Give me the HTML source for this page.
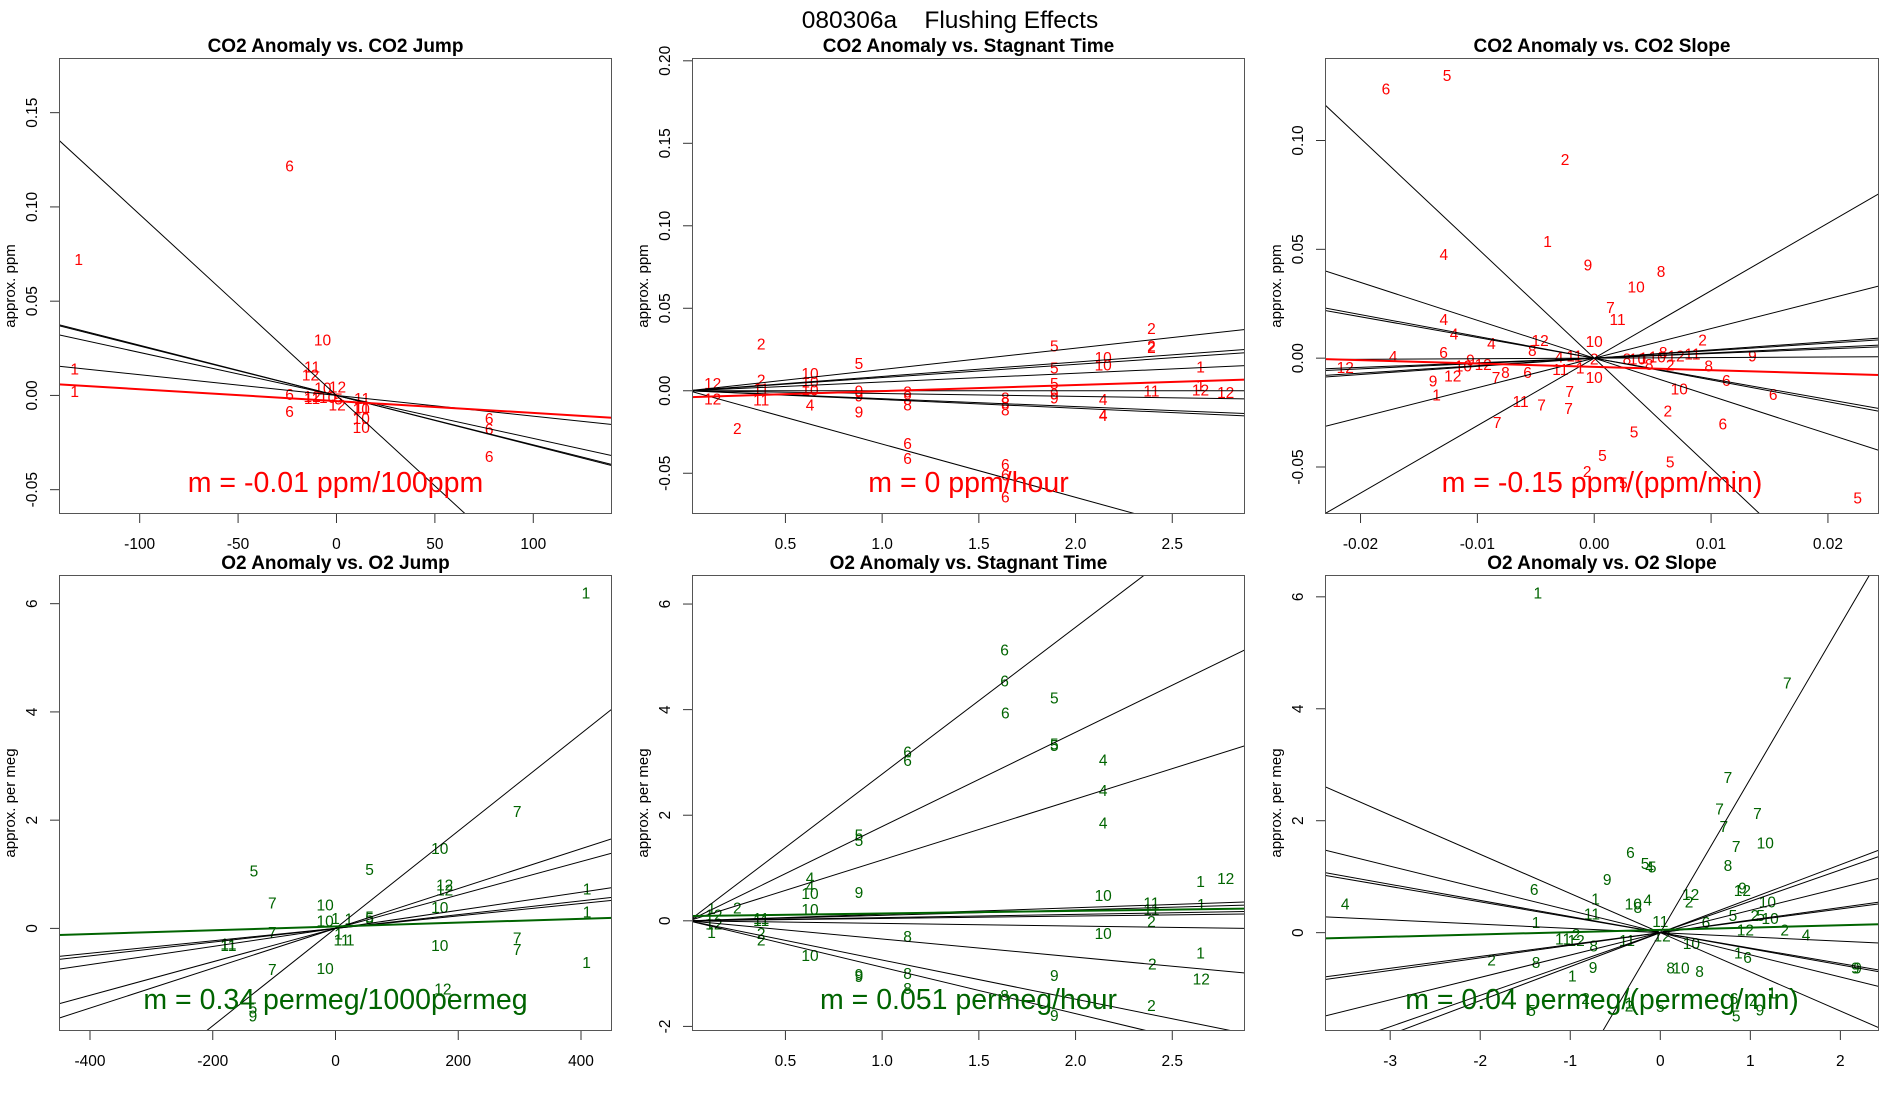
<!DOCTYPE html>
<html><head><meta charset="utf-8">
<style>
html,body{margin:0;padding:0;background:#fff;overflow:hidden;width:1900px;height:1100px;}
svg{display:block;font-family:"Liberation Sans",Arial,sans-serif;}
</style></head>
<body>
<svg id="chart" width="1900" height="1100" viewBox="0 0 1900 1100" xmlns="http://www.w3.org/2000/svg">
<rect width="1900" height="1100" fill="#fff"/>
<text x="950" y="28" font-size="24.5" text-anchor="middle" style="white-space:pre">080306a    Flushing Effects</text>
</svg>
<script>
// ---------- Panel 1: CO2 Anomaly vs CO2 Jump ----------
const p1Lab = ["6","1","10","11","12","1","1","10","12","6","12","11","10","5","12","11","11","10","10","10","6","6","6","6"];
const p1X = [-23.8,-131,-7.1,-12.4,-13.2,-133,-133,-6.9,0.5,-23.8,-12.4,-12.4,-4.5,1,0.3,13,13,12.6,12.6,12.6,-23.8,77.6,77.6,77.6];
const p1Y = [0.1217,0.0722,0.0294,0.0151,0.0108,0.0141,0.002,0.0039,0.0045,0.0006,-0.0007,-0.0015,-0.0012,-0.0018,-0.005,-0.0017,-0.0063,-0.0073,-0.0123,-0.0171,-0.0086,-0.0123,-0.0179,-0.0324];
const p1Slopes = [-0.00096,-0.000266,-0.000262,-0.000228,-0.00011];
const p1Fit = [-0.003,-0.000063];
const p1XTicks = [-100,-50,0,50,100];
const p1YTicks = [-0.05,0,0.05,0.10,0.15];
const p1YTickLabels = ["-0.05","0.00","0.05","0.10","0.15"];

// ---------- Panel 2: CO2 Anomaly vs Stagnant Time ----------
const p2Lab = ["2","12","12","2","2","11","11","10","10","10","4","5","9","9","9","8","8","8","6","6","8","8","8","6","6","6","5","5","5","9","9","10","10","4","4","4","2","2","2","11","1","1","12","12"];
const p2X = [0.375,0.124,0.124,0.251,0.375,0.375,0.375,0.627,0.627,0.627,0.627,0.88,0.88,0.88,0.88,1.131,1.131,1.131,1.131,1.131,1.637,1.637,1.637,1.637,1.637,1.637,1.89,1.89,1.89,1.89,1.89,2.143,2.143,2.143,2.143,2.143,2.392,2.392,2.392,2.392,2.646,2.646,2.646,2.776];
const p2Y = [0.0283,0.0043,-0.0049,-0.0228,0.0064,0.001,-0.0057,0.0106,0.0053,0.0006,-0.0085,0.0166,0,-0.0032,-0.0128,-0.0006,-0.0053,-0.0085,-0.0319,-0.0411,-0.0043,-0.0074,-0.0117,-0.0447,-0.051,-0.0645,0.0272,0.0138,0.0043,-0.002,-0.0043,0.0202,0.0155,-0.0053,-0.0147,-0.0151,0.0377,0.027,0.0262,0,0.0145,0.0032,0.0004,-0.001];
const p2Slopes = [0.0129,0.0087,0.008,0.0053,0,-0.0017,-0.0048,-0.0053,-0.0323];
const p2Fit = [-0.0039,0.0037];
const p2XTicks = [0.5,1.0,1.5,2.0,2.5];
const p2XTickLabels = ["0.5","1.0","1.5","2.0","2.5"];
const p2YTicks = [-0.05,0,0.05,0.10,0.15,0.20];
const p2YTickLabels = ["-0.05","0.00","0.05","0.10","0.15","0.20"];

// ---------- Panel 3: CO2 Anomaly vs CO2 Slope ----------
const p3Lab = ["6","5","2","1","4","9","8","10","7","11","4","4","4","12","10","2","4","6","8","4","11","2","12","9","10","12","7","8","6","11","1","10","9","12","1","11","7","7","7","7","8","10","1","10","8","12","11","8","2","9","8","6","10","6","2","6","5","5","5","2","5","5"];
const p3X = [-0.01783,-0.0126,-0.0025,-0.004,-0.01287,-0.00054,0.00571,0.00358,0.00138,0.002,-0.01287,-0.012,-0.0088,-0.00463,0,0.00927,-0.0172,-0.0129,-0.0053,-0.003,-0.0017,0,-0.0213,-0.0106,-0.0112,-0.0095,-0.0084,-0.0076,-0.0057,-0.0029,-0.0012,0,-0.0138,-0.0121,-0.0135,-0.0063,-0.0045,-0.0021,-0.0022,-0.0083,0.0028,0.0037,0.0042,0.0054,0.0059,0.007,0.0084,0.0047,0.0065,0.01354,0.0098,0.0113,0.00728,0.01532,0.0063,0.011,0.0034,0.0007,0.0065,-0.0006,0.0025,0.02255];
const p3Y = [0.1237,0.1298,0.0913,0.0535,0.0476,0.0427,0.0398,0.0326,0.0232,0.0177,0.0177,0.0111,0.0068,0.0081,0.0076,0.0084,0.0008,0.0027,0.0035,0.0006,0.0011,-0.0005,-0.0042,-0.0008,-0.0037,-0.0029,-0.009,-0.0066,-0.0065,-0.0053,-0.0045,-0.009,-0.0105,-0.0081,-0.0169,-0.0198,-0.0215,-0.0153,-0.0231,-0.0295,-0.0005,-0.0005,0,0.0006,0.0027,0.0011,0.0019,-0.0029,-0.0032,0.0011,-0.0037,-0.0102,-0.0142,-0.0166,-0.0242,-0.0303,-0.034,-0.0448,-0.0477,-0.0521,-0.0574,-0.0642];
const p3Slopes = [-5.05,3.1,1.36,-1.74,-1.0,-0.95,0.377,0.344,0.245,0.212,0.027];
const p3Fit = [-0.004,-0.154];
const p3XTicks = [-0.02,-0.01,0,0.01,0.02];
const p3XTickLabels = ["-0.02","-0.01","0.00","0.01","0.02"];
const p3YTicks = [-0.05,0,0.05,0.10];
const p3YTickLabels = ["-0.05","0.00","0.05","0.10"];

// ---------- Panel 4: O2 Anomaly vs O2 Jump ----------
const p4Lab = ["1","7","10","5","5","12","12","1","10","7","10","10","1","1","5","5","1","7","11","11","1","11","1","7","7","10","1","7","10","12","5","9"];
const p4X = [408,296,170,-133,55.5,178,178,410,170,-103,-17,-17,0,21.6,55.5,55.5,410,-103,-174.5,-174.5,5,10,24,296,296,170,409,-103,-17,175,-134.5,-134.5];
const p4Y = [6.2,2.16,1.48,1.06,1.09,0.8,0.71,0.73,0.39,0.47,0.43,0.14,0.18,0.17,0.21,0.18,0.3,-0.08,-0.29,-0.32,-0.1,-0.21,-0.21,-0.18,-0.39,-0.32,-0.63,-0.76,-0.74,-1.12,-1.47,-1.62];
const p4Slopes = [0.009,0.00368,0.00309,0.00167,0.00127,0.00115];
const p4Fit = [0.036,0.000353];
const p4XTicks = [-400,-200,0,200,400];
const p4YTicks = [0,2,4,6];

// ---------- Panel 5: O2 Anomaly vs Stagnant Time ----------
const p5Lab = ["6","6","6","5","5","5","6","6","4","4","4","5","5","4","4","10","9","10","2","1","12","10","11","11","1","2","11","11","1","12","12","1","2","2","10","8","10","1","2","9","9","8","9","12","8","8","2","9"];
const p5X = [1.633,1.633,1.637,1.89,1.89,1.89,1.131,1.131,2.143,2.143,2.143,0.88,0.88,0.627,0.627,0.627,0.88,0.627,0.251,2.646,2.776,2.143,2.392,2.392,2.65,2.392,0.375,0.375,0.118,0.13,0.13,0.118,0.375,0.375,2.143,1.131,0.627,2.646,2.397,0.88,0.88,1.131,1.89,2.65,1.131,1.633,2.392,1.89];
const p5Y = [5.13,4.54,3.94,4.22,3.35,3.32,3.2,3.04,3.05,2.47,1.85,1.63,1.52,0.81,0.65,0.52,0.54,0.21,0.24,0.74,0.8,0.48,0.34,0.21,0.31,-0.01,0.04,0.01,0.23,0.11,-0.06,-0.22,-0.24,-0.36,-0.24,-0.3,-0.66,-0.61,-0.82,-1.02,-1.05,-1.0,-1.04,-1.1,-1.28,-1.41,-1.6,-1.79];
const p5Slopes = [2.78,1.785,1.153,0.124,0.103,0.061,0.045,-0.0498,-0.344,-0.742,-0.879];
const p5Fit = [0.09,0.049];
const p5XTicks = [0.5,1.0,1.5,2.0,2.5];
const p5XTickLabels = ["0.5","1.0","1.5","2.0","2.5"];
const p5YTicks = [-2,0,2,4,6];

// ---------- Panel 6: O2 Anomaly vs O2 Slope ----------
const p6Lab = ["1","7","7","7","7","7","7","10","8","6","5","4","5","9","6","4","1","10","8","4","11","12","2","9","12","10","1","11","6","5","2","5","10","12","2","4","11","2","12","8","11","12","10","2","8","9","1","1","6","8","10","8","9","9","2","1","2","5","6","4","1","9","5","5"];
const p6X = [-1.36,1.41,0.751,0.659,1.078,0.705,0.843,1.166,0.751,-0.332,-0.17,-0.12,-0.09,-0.59,-1.4,-3.5,-0.72,-0.3,-0.25,-0.14,-0.76,0.336,0.32,0.912,0.912,1.19,-1.38,0,0.507,0.806,1.05,1.115,1.22,0.945,1.382,1.618,-1.08,-0.935,-0.935,-0.74,-0.37,0.02,0.345,-1.875,-1.38,-0.747,-0.977,0.866,0.968,0.115,0.23,0.437,2.166,2.19,-0.83,-0.346,-0.346,0,0.82,1.037,1.24,1.106,0.843,-1.43];
const p6Y = [6.07,4.46,2.77,2.21,2.13,1.9,1.54,1.6,1.2,1.43,1.24,1.17,1.17,0.95,0.77,0.51,0.6,0.51,0.45,0.58,0.33,0.68,0.55,0.8,0.75,0.55,0.18,0.2,0.18,0.31,0.31,0.31,0.25,0.05,0.05,-0.04,-0.11,-0.03,-0.14,-0.24,-0.14,-0.06,-0.19,-0.49,-0.53,-0.62,-0.77,-0.36,-0.44,-0.63,-0.63,-0.69,-0.63,-0.63,-1.18,-1.26,-1.31,-1.32,-1.18,-1.26,-1.08,-1.38,-1.49,-1.39];
const p6Slopes = [2.75,-0.70,-0.396,-0.288,-0.275,-0.076,0.607,0.56,0.40,0.225,0.212];
const p6Fit = [0.05,0.041];
const p6XTicks = [-3,-2,-1,0,1,2];
const p6YTicks = [0,2,4,6];

const NS = "http://www.w3.org/2000/svg";
const svg = document.getElementById("chart");
function mk(tag, attrs, parent){
  const e = document.createElementNS(NS, tag);
  for (const k in attrs) e.setAttribute(k, attrs[k]);
  (parent||svg).appendChild(e);
  return e;
}

const panels = [
 {id:"co2-jump", title:"CO2 Anomaly vs. CO2 Jump", box:[59,58,612,514], xd:[-141,140], yd:[-0.0629,0.179],
  lab:p1Lab, xs:p1X, ys:p1Y, slopes:p1Slopes, fit:p1Fit, xt:p1XTicks, xtl:p1XTicks.map(String), yt:p1YTicks, ytl:p1YTickLabels,
  col:"#ff0000", ylab:"approx. ppm", ann:"m = -0.01 ppm/100ppm"},
 {id:"co2-stagnant", title:"CO2 Anomaly vs. Stagnant Time", box:[692,58,1245,514], xd:[0.017,2.876], yd:[-0.0747,0.2017],
  lab:p2Lab, xs:p2X, ys:p2Y, slopes:p2Slopes, fit:p2Fit, xt:p2XTicks, xtl:p2XTickLabels, yt:p2YTicks, ytl:p2YTickLabels,
  col:"#ff0000", ylab:"approx. ppm", ann:"m = 0 ppm/hour"},
 {id:"co2-slope", title:"CO2 Anomaly vs. CO2 Slope", box:[1325,58,1879,514], xd:[-0.02304,0.02437], yd:[-0.0716,0.1379],
  lab:p3Lab, xs:p3X, ys:p3Y, slopes:p3Slopes, fit:p3Fit, xt:p3XTicks, xtl:p3XTickLabels, yt:p3YTicks, ytl:p3YTickLabels,
  col:"#ff0000", ylab:"approx. ppm", ann:"m = -0.15 ppm/(ppm/min)"},
 {id:"o2-jump", title:"O2 Anomaly vs. O2 Jump", box:[59,575,612,1031], xd:[-450.5,450.5], yd:[-1.896,6.53],
  lab:p4Lab, xs:p4X, ys:p4Y, slopes:p4Slopes, fit:p4Fit, xt:p4XTicks, xtl:p4XTicks.map(String), yt:p4YTicks, ytl:p4YTicks.map(String),
  col:"#006400", ylab:"approx. per meg", ann:"m = 0.34 permeg/1000permeg"},
 {id:"o2-stagnant", title:"O2 Anomaly vs. Stagnant Time", box:[692,575,1245,1031], xd:[0.017,2.876], yd:[-2.087,6.55],
  lab:p5Lab, xs:p5X, ys:p5Y, slopes:p5Slopes, fit:p5Fit, xt:p5XTicks, xtl:p5XTickLabels, yt:p5YTicks, ytl:p5YTicks.map(String),
  col:"#006400", ylab:"approx. per meg", ann:"m = 0.051 permeg/hour"},
 {id:"o2-slope", title:"O2 Anomaly vs. O2 Slope", box:[1325,575,1879,1031], xd:[-3.724,2.429], yd:[-1.757,6.39],
  lab:p6Lab, xs:p6X, ys:p6Y, slopes:p6Slopes, fit:p6Fit, xt:p6XTicks, xtl:p6XTicks.map(String), yt:p6YTicks, ytl:p6YTicks.map(String),
  col:"#006400", ylab:"approx. per meg", ann:"m = 0.04 permeg/(permeg/min)"}
];

panels.forEach((p, i) => {
  const [L,T,R,B] = p.box;
  const sx = v => L + (v - p.xd[0]) / (p.xd[1]-p.xd[0]) * (R-L);
  const sy = v => B - (v - p.yd[0]) / (p.yd[1]-p.yd[0]) * (B-T);
  const g = mk("g", {});
  
  
  const cp = mk("clipPath", {id:"clip"+i}, g);
  mk("rect", {x:L, y:T, width:R-L, height:B-T}, cp);

  const t = mk("text", {x:(L+R)/2, y:T-6, "font-size":19, "font-weight":"bold", "text-anchor":"middle"}, g);
  
  
  t.textContent = p.title;

  const pts = mk("g", {"clip-path":"url(#clip"+i+")", fill:p.col, "font-size":15.5, "text-anchor":"middle"}, g);
  
  
  p.lab.forEach((lb, k) => {
    const e = mk("text", {x:sx(p.xs[k]).toFixed(1), y:(sy(p.ys[k])+5.5).toFixed(1)}, pts);
    
    
    e.textContent = lb;
  });

  const ln = mk("g", {"clip-path":"url(#clip"+i+")"}, g);
  
  
  p.slopes.forEach(m => {
    const e = mk("line", {x1:sx(p.xd[0]), y1:sy(m*p.xd[0]), x2:sx(p.xd[1]), y2:sy(m*p.xd[1]), stroke:"#000", "stroke-width":1}, ln);
    
    
  });
  const f = mk("line", {x1:sx(p.xd[0]), y1:sy(p.fit[0]+p.fit[1]*p.xd[0]), x2:sx(p.xd[1]), y2:sy(p.fit[0]+p.fit[1]*p.xd[1]), stroke:p.col, "stroke-width":2}, ln);
  
  

  const an = mk("text", {x:(L+R)/2, y:B-22, "font-size":28.5, fill:p.col, "text-anchor":"middle"}, g);
  
  
  an.textContent = p.ann;

  const fr = mk("rect", {x:L+0.5, y:T+0.5, width:R-L-1, height:B-T-1, fill:"none", stroke:"#555", "stroke-width":1}, g);
  
  

  const xa = mk("g", {"font-size":15.5, "text-anchor":"middle"}, g);
  
  
  p.xt.forEach((v, k) => {
    const x = sx(v);
    mk("line", {x1:x, y1:B, x2:x, y2:B+9, stroke:"#333"}, xa);
    const e = mk("text", {x:x, y:B+35}, xa);
    
    
    e.textContent = p.xtl[k];
  });
  const ya = mk("g", {"font-size":15.5, "text-anchor":"middle"}, g);
  
  
  p.yt.forEach((v, k) => {
    const y = sy(v);
    mk("line", {x1:L-9, y1:y, x2:L, y2:y, stroke:"#333"}, ya);
    const e = mk("text", {x:L-22, y:y, transform:"rotate(-90 "+(L-22)+" "+y+")"}, ya);
    
    
    e.textContent = p.ytl[k];
  });
  const yl = mk("text", {x:L-44, y:(T+B)/2, "font-size":15, "text-anchor":"middle", transform:"rotate(-90 "+(L-44)+" "+((T+B)/2)+")"}, g);
  
  
  yl.textContent = p.ylab;
});
</script>
</body></html>
